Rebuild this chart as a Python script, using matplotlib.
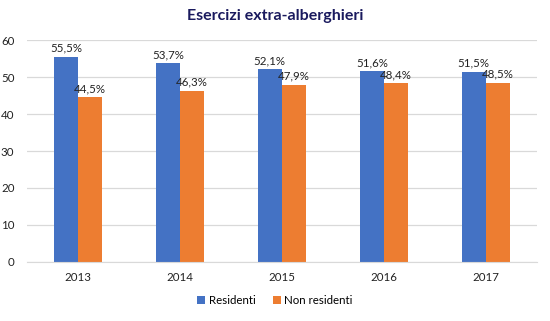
import numpy as np
import matplotlib.pyplot as plt

plt.rcParams['font.family'] = ['Lato', 'DejaVu Sans']

anni = ['2013', '2014', '2015', '2016', '2017']
residenti = [55.5, 53.7, 52.1, 51.6, 51.5]
non_residenti = [44.5, 46.3, 47.9, 48.4, 48.5]

fig = plt.figure(figsize=(5.5, 3.21), dpi=100)
ax = fig.add_axes([0.049, 0.184, 0.927, 0.691])

x = np.arange(len(anni))
w = 0.236
b1 = ax.bar(x - w/2, residenti, w, color='#4472C4', label='Residenti')
b2 = ax.bar(x + w/2, non_residenti, w, color='#ED7D31', label='Non residenti')

for bars, vals in ((b1, residenti), (b2, non_residenti)):
	for b, v in zip(bars, vals):
		ax.text(b.get_x() + b.get_width()/2, v + 0.8, ('%.1f%%' % v).replace('.', ','),
			ha='center', va='bottom', fontsize=8.3, color='#222222')

ax.set_xlim(-0.5, len(anni) - 0.5)
ax.set_ylim(0, 60)
ax.set_yticks(range(0, 61, 10))
ax.set_xticks(x)
ax.set_xticklabels(anni)
ax.tick_params(axis='both', length=0, labelsize=8.3, colors='#222222')
ax.tick_params(axis='y', pad=9)
ax.tick_params(axis='x', pad=7)
ax.grid(axis='y', color='#d9d9d9', linewidth=0.9)
ax.set_axisbelow(True)
for s in ['top', 'right', 'left']:
	ax.spines[s].set_visible(False)
ax.spines['bottom'].set_color('#d9d9d9')

fig.text(0.5, 0.95, 'Esercizi extra-alberghieri', ha='center', va='center',
	fontsize=11.5, fontweight='bold', color='#1a1a5e')
fig.legend(handles=[b1, b2], loc='center', bbox_to_anchor=(0.5, 0.065), ncol=2,
	frameon=False, fontsize=8.3, handlelength=0.7, handleheight=0.7,
	handletextpad=0.3, columnspacing=1.5)

fig.savefig('out.png', dpi=100)
